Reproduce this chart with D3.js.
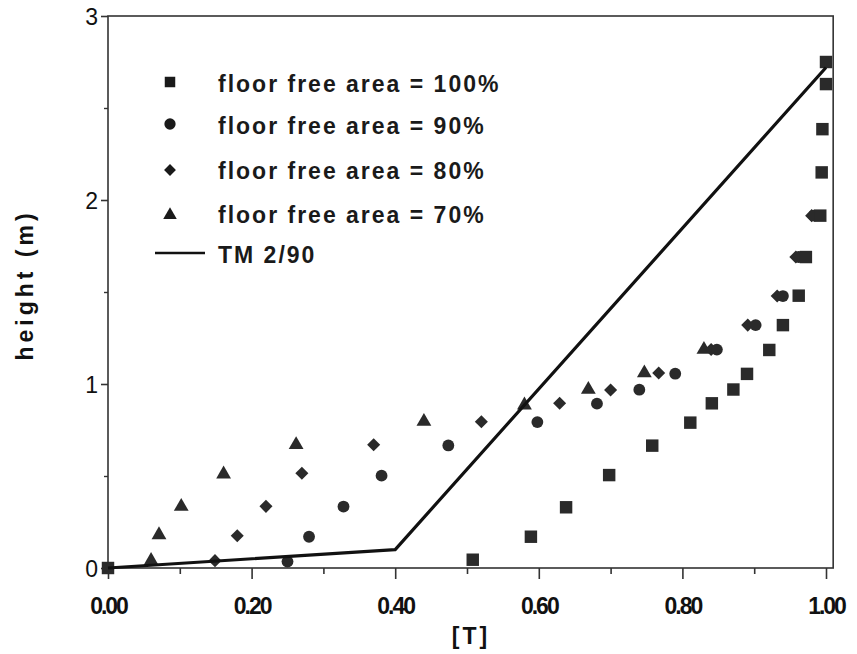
<!DOCTYPE html>
<html>
<head>
<meta charset="utf-8">
<script src="https://cdn.jsdelivr.net/npm/d3@7"></script>
<style>
  body { margin: 0; background: #fff; }
  svg { display: block; font-family: "Liberation Sans", Arial, sans-serif; }
</style>
</head>
<body>
<div id="chart"></div>
<script>
// series: [T, height (m)]
const ffa100 = [[0, 0], [0.508, 0.045], [0.589, 0.17], [0.638, 0.33], [0.698, 0.505], [0.758, 0.665],
  [0.811, 0.79], [0.841, 0.895], [0.871, 0.97], [0.89, 1.055], [0.921, 1.185], [0.94, 1.32],
  [0.962, 1.48], [0.972, 1.69], [0.992, 1.915], [0.994, 2.15], [0.995, 2.385], [1.0, 2.63], [1.0, 2.75]]
const ffa90 = [[0.25, 0.035], [0.28, 0.17], [0.328, 0.334], [0.381, 0.502], [0.474, 0.666], [0.598, 0.793],
  [0.681, 0.893], [0.74, 0.969], [0.79, 1.056], [0.848, 1.187], [0.902, 1.32], [0.94, 1.478],
  [0.962, 1.69], [0.983, 1.915]]
const ffa80 = [[0.149, 0.04], [0.18, 0.175], [0.22, 0.335], [0.27, 0.515], [0.37, 0.67], [0.52, 0.795],
  [0.629, 0.895], [0.70, 0.967], [0.767, 1.06], [0.84, 1.187], [0.891, 1.32], [0.932, 1.478],
  [0.958, 1.69], [0.98, 1.915]]
const ffa70 = [[0.06, 0.04], [0.071, 0.18], [0.102, 0.334], [0.161, 0.51], [0.262, 0.67], [0.44, 0.796],
  [0.58, 0.885], [0.669, 0.97], [0.747, 1.06], [0.83, 1.187]]
const tm290 = [[0, 0], [0.4, 0.1], [1.0, 2.72]]

const xMajor = [0, 0.2, 0.4, 0.6, 0.8, 1.0]
const xMinor = [0.1, 0.3, 0.5, 0.7, 0.9]
const yMajor = [0, 1, 2, 3]
const yMinor = [0.5, 1.5, 2.5]

const legendLabels = ["floor free area = 100%", "floor free area = 90%",
  "floor free area = 80%", "floor free area = 70%", "TM 2/90"]

let width = 857, height = 654
let ink = "#2a2a2a"

let x = d3.scaleLinear().domain([0, 1]).range([108, 826])
let y = d3.scaleLinear().domain([0, 3]).range([568, 16])

let svg = d3.select("#chart").append("svg")
  .attr("width", width)
  .attr("height", height)

// frame
svg.append("rect")
  .attr("x", x(0)).attr("y", y(3))
  .attr("width", x(1.01) - x(0)).attr("height", y(0) - y(3))
  .attr("fill", "none").attr("stroke", "#333").attr("stroke-width", 1.6)

// x axis
let xAxisMajor = d3.axisBottom(x).tickValues(xMajor).tickSize(11).tickFormat(d3.format(".2f"))
let gx = svg.append("g").attr("transform", "translate(0," + y(0) + ")").call(xAxisMajor)
gx.select(".domain").remove()
gx.selectAll("line").attr("stroke", "#333").attr("stroke-width", 1.6)
gx.selectAll("text")
  .attr("y", 46).attr("dy", 0)
  .attr("fill", "#111")
  .style("font-size", "23px").style("font-weight", "bold").style("letter-spacing", "-2px")

let gxm = svg.append("g").attr("transform", "translate(0," + y(0) + ")")
  .call(d3.axisBottom(x).tickValues(xMinor).tickSize(6).tickFormat(""))
gxm.select(".domain").remove()
gxm.selectAll("line").attr("stroke", "#333").attr("stroke-width", 1.6)

// y axis
let gy = svg.append("g").attr("transform", "translate(" + x(0) + ",0)")
  .call(d3.axisLeft(y).tickValues(yMajor).tickSize(7).tickPadding(3).tickFormat(d3.format("d")))
gy.select(".domain").remove()
gy.selectAll("line").attr("stroke", "#333").attr("stroke-width", 1.6)
gy.selectAll("text")
  .attr("dy", "0.36em")
  .attr("fill", "#111")
  .style("font-size", "23px")

let gym = svg.append("g").attr("transform", "translate(" + x(0) + ",0)")
  .call(d3.axisLeft(y).tickValues(yMinor).tickSize(4).tickFormat(""))
gym.select(".domain").remove()
gym.selectAll("line").attr("stroke", "#333").attr("stroke-width", 1.4)

// axis titles
svg.append("text")
  .attr("x", 471).attr("y", 644)
  .attr("text-anchor", "middle")
  .style("font-size", "23px").style("font-weight", "bold").style("letter-spacing", "3px")
  .attr("fill", "#111")
  .text("[T]")

svg.append("text")
  .attr("transform", "translate(33,285) rotate(-90)")
  .attr("text-anchor", "middle")
  .style("font-size", "23px").style("font-weight", "bold").style("letter-spacing", "4px")
  .attr("fill", "#111")
  .text("height (m)")

// marker shapes
let sym = {
  square: d3.symbol().type(d3.symbolSquare).size(155),
  circle: d3.symbol().type(d3.symbolCircle).size(110),
  diamond: d3.symbol().type(d3.symbolSquare).size(85),
  triangle: d3.symbol().type(d3.symbolTriangle).size(95)
}

function drawSeries(data, shape, rot) {
  svg.append("g").selectAll("path")
    .data(data)
    .enter().append("path")
    .attr("d", sym[shape])
    .attr("transform", function (d) {
      return "translate(" + x(d[0]) + "," + y(d[1]) + ")" + (rot ? " rotate(45)" : "")
    })
    .attr("fill", ink)
}

drawSeries(ffa70, "triangle")
drawSeries(ffa80, "diamond", true)
drawSeries(ffa90, "circle")
drawSeries(ffa100, "square")

// TM 2/90 line
let line = d3.line().x(function (d) { return x(d[0]) }).y(function (d) { return y(d[1]) })
svg.append("path")
  .datum(tm290)
  .attr("d", line)
  .attr("fill", "none")
  .attr("stroke", "#111")
  .attr("stroke-width", 3.2)
  .attr("stroke-linejoin", "round")

// legend
let legendRows = [
  { shape: "square", y: 82, ty: 92 },
  { shape: "circle", y: 124, ty: 134 },
  { shape: "diamond", y: 170, ty: 179 },
  { shape: "triangle", y: 215, ty: 223 },
  { shape: "line", y: 253, ty: 263 }
]
let legSym = {
  square: d3.symbol().type(d3.symbolSquare).size(110),
  circle: d3.symbol().type(d3.symbolCircle).size(100),
  diamond: d3.symbol().type(d3.symbolSquare).size(70),
  triangle: d3.symbol().type(d3.symbolTriangle).size(80)
}
let lg = svg.append("g").selectAll("g")
  .data(legendRows)
  .enter().append("g")

lg.each(function (d, i) {
  let g = d3.select(this)
  if (d.shape === "line") {
    g.append("line")
      .attr("x1", 155).attr("x2", 205)
      .attr("y1", d.y).attr("y2", d.y)
      .attr("stroke", "#111").attr("stroke-width", 2.4)
  } else {
    g.append("path")
      .attr("d", legSym[d.shape])
      .attr("transform", "translate(170," + d.y + ")" + (d.shape === "diamond" ? " rotate(45)" : ""))
      .attr("fill", "#1a1a1a")
  }
  g.append("text")
    .attr("x", 218).attr("y", d.ty)
    .style("font-size", "23px").style("font-weight", "bold").style("letter-spacing", "2px")
    .attr("fill", "#1a1a1a")
    .text(legendLabels[i])
})
</script>
</body>
</html>
